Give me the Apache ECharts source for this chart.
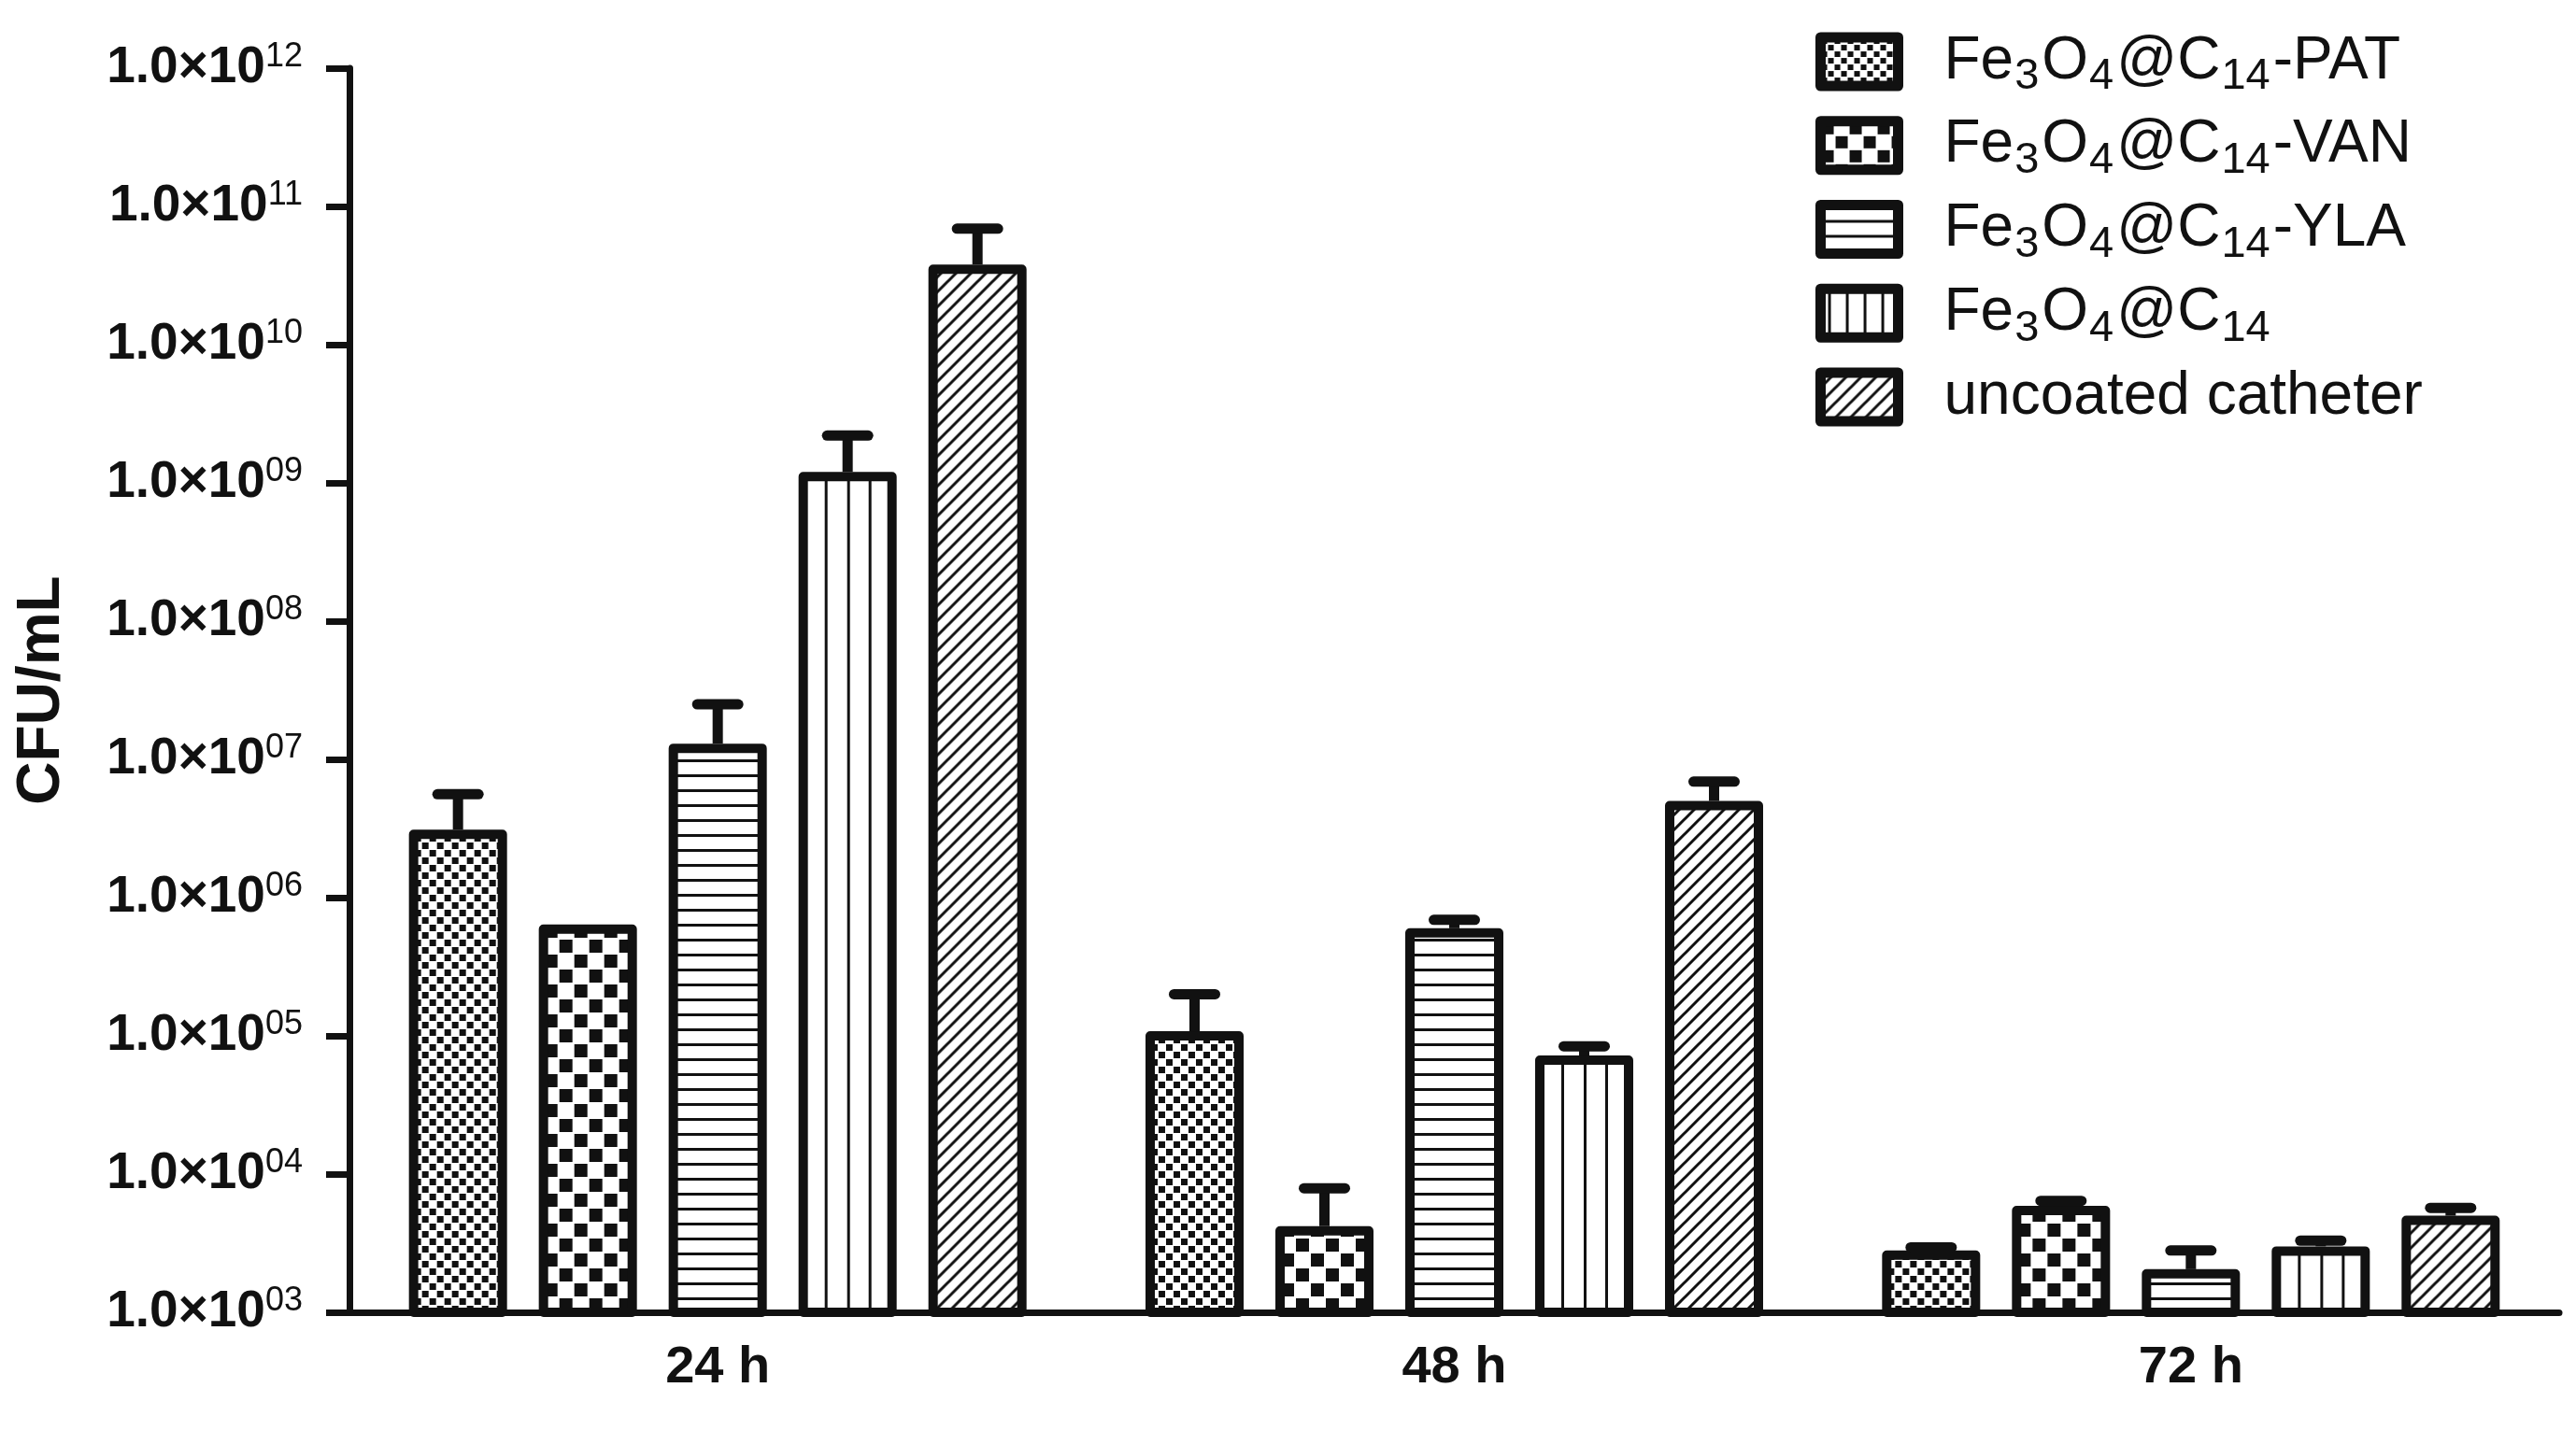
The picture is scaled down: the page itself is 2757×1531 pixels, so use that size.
<!DOCTYPE html>
<html><head><meta charset="utf-8">
<script src="https://cdn.jsdelivr.net/npm/echarts@6/dist/echarts.min.js"></script>
<style>html,body{margin:0;padding:0;background:#fff}#c{width:2757px;height:1531px}</style>
</head><body><div id="c"></div>
<script>
// ---- data ----
const categories = ['24 h', '48 h', '72 h'];
const seriesNames = ['Fe3O4@C14-PAT', 'Fe3O4@C14-VAN', 'Fe3O4@C14-YLA', 'Fe3O4@C14', 'uncoated catheter'];
const patMean = [3.1e6, 1.08e5, 2.8e3];
const patErrTop = [5.6e6, 2.0e5, 2.95e3];
const vanMean = [6.4e5, 4.2e3, 5.9e3];
const vanErrTop = [null, 7.9e3, 6.4e3];
const ylaMean = [1.3e7, 6.0e5, 2.05e3];
const ylaErrTop = [2.5e7, 6.9e5, 2.8e3];
const c14Mean = [1.2e9, 7.2e4, 3.0e3];
const c14ErrTop = [2.2e9, 8.4e4, 3.3e3];
const uncoatedMean = [3.8e10, 5.0e6, 5.0e3];
const uncoatedErrTop = [6.9e10, 6.9e6, 5.7e3];
const yTickLabels = ['03', '04', '05', '06', '07', '08', '09', '10', '11', '12'];
const yAxisTitle = 'CFU/mL';

const means = [patMean, vanMean, ylaMean, c14Mean, uncoatedMean];
const errTops = [patErrTop, vanErrTop, ylaErrTop, c14ErrTop, uncoatedErrTop];

// ---- styles ----
const INK = '#111';
const FONT = 'Liberation Sans, Arial, sans-serif';
const BAR_W = 105, PITCH = 139, BORDER = 10;
const BAR_GAP = (PITCH - BAR_W) / BAR_W;
const INNER = BAR_W - BORDER;

function makeTile(w, h, draw) {
  const c = document.createElement('canvas');
  c.width = w; c.height = h;
  const g = c.getContext('2d');
  g.fillStyle = '#fff'; g.fillRect(0, 0, w, h);
  g.fillStyle = INK; g.strokeStyle = INK;
  draw(g);
  return c;
}
const diag = g => {
  g.lineWidth = 3; g.beginPath();
  g.moveTo(-4, 20); g.lineTo(20, -4);
  g.moveTo(-12, 12); g.lineTo(12, -12);
  g.moveTo(4, 28); g.lineTo(28, 4);
  g.stroke();
};
// tiles used by the legend icons
const legendTiles = [
  makeTile(14, 14, g => { g.fillRect(1, 1, 6, 6); g.fillRect(8, 8, 6, 6); }),
  makeTile(30, 30, g => { g.fillRect(1, 1, 13, 13); g.fillRect(16, 16, 13, 13); }),
  makeTile(4, 16, g => { g.fillRect(0, 0, 4, 3); }),
  makeTile(19, 4, g => { g.fillRect(8, 0, 3, 4); }),
  makeTile(16, 16, diag)
];
// tiles used inside the bars (anchored at each bar's inner left edge)
const barTiles = [
  makeTile(16, 16, g => { g.fillRect(1, 1, 7, 7); g.fillRect(9, 9, 7, 7); }),
  makeTile(32, 32, g => { g.fillRect(1, 1, 14, 14); g.fillRect(17, 17, 14, 14); }),
  makeTile(4, 16, g => { g.fillRect(0, 0, 4, 3); }),
  makeTile(INNER, 4, g => { [1, 2, 3].forEach(k => g.fillRect(Math.round(k * INNER / 4) - 1, 0, 3, 4)); }),
  makeTile(16, 16, diag)
];

function barSeriesOpt(dataFn) {
  return seriesNames.map((n, i) => ({
    name: n, type: 'bar', data: dataFn(i),
    barWidth: BAR_W, barGap: (BAR_GAP * 100).toFixed(2) + '%',
    itemStyle: { color: { image: legendTiles[i], repeat: 'repeat' }, borderColor: INK, borderWidth: BORDER, borderJoin: 'round' },
    z: 2
  }));
}

const errData = [];
errTops.forEach((arr, s) => arr.forEach((e, c) => {
  if (e != null) errData.push([c, s, means[s][c], e]);
}));

const errSeries = {
  name: 'err', type: 'custom', data: errData, z: 5,
  encode: { x: 0, y: 3 },
  renderItem: (params, api) => {
    const c = api.value(0), s = api.value(1), v = api.value(2), e = api.value(3);
    const b = api.coord([c, v]);
    const t = api.coord([c, e]);
    const x = b[0] + (s - 2) * PITCH;
    return { type: 'group', children: [
      { type: 'line', shape: { x1: x, y1: b[1], x2: x, y2: t[1] }, style: { stroke: INK, lineWidth: 11, lineCap: 'butt' } },
      { type: 'line', shape: { x1: x - 22, y1: t[1], x2: x + 22, y2: t[1] }, style: { stroke: INK, lineWidth: 11, lineCap: 'round' } }
    ] };
  }
};

function legendRich(name) {
  const m = name.match(/^Fe3O4@C14(.*)$/);
  if (!m) return '{sp| }{m|' + name + '}';
  return '{sp| }{m|Fe}{sub|3}{m|O}{sub|4}{m|@C}{sub|14}' + (m[1] ? '{m|' + m[1] + '}' : '');
}

const chart = echarts.init(document.getElementById('c'), null, { renderer: 'canvas' });
chart.setOption({
  animation: false,
  backgroundColor: '#fff',
  textStyle: { fontFamily: FONT, color: INK },
  grid: { left: 374, right: 18, top: 73, bottom: 126, containLabel: false },
  legend: {
    orient: 'vertical', left: 1943, top: 34, padding: 0,
    itemWidth: 83, itemHeight: 52, itemGap: 17.75,
    icon: 'rect',
    data: seriesNames,
    itemStyle: { borderColor: INK, borderWidth: 11, borderJoin: 'round' },
    formatter: legendRich,
    textStyle: {
      rich: {
        sp: { width: 44, fontSize: 20, lineHeight: 80 },
        m: { fontSize: 64, lineHeight: 80, color: INK, fontFamily: FONT },
        sub: { fontSize: 47, lineHeight: 32, verticalAlign: 'bottom', padding: [0, 3, 0, 1], color: INK, fontFamily: FONT }
      }
    }
  },
  xAxis: {
    type: 'category', data: categories,
    axisLine: { lineStyle: { color: INK, width: 7, cap: 'round' } },
    axisTick: { alignWithLabel: true, length: 24, lineStyle: { color: INK, width: 6 } },
    axisLabel: { margin: 32, fontSize: 56, fontWeight: 'bold', color: INK, fontFamily: FONT }
  },
  yAxis: {
    type: 'log', logBase: 10, min: 1e3, max: 1e12, splitNumber: 10,
    name: yAxisTitle, nameLocation: 'middle', nameGap: 297, nameRotate: 90,
    nameTextStyle: { fontSize: 64, fontWeight: 'bold', color: INK, fontFamily: FONT },
    splitLine: { show: false },
    axisLine: { show: true, lineStyle: { color: INK, width: 7, cap: 'round' } },
    axisTick: { show: true, length: 25, lineStyle: { color: INK, width: 7 } },
    axisLabel: {
      margin: 50,
      formatter: v => {
        const p = Math.round(Math.log10(v));
        return '{m|1.0×10}{sup|' + yTickLabels[p - 3] + '}';
      },
      rich: {
        m: { fontSize: 55, fontWeight: 'bold', lineHeight: 60, color: INK, fontFamily: FONT },
        sup: { fontSize: 36, lineHeight: 34, verticalAlign: 'top', color: INK, fontFamily: FONT }
      }
    }
  },
  series: [...barSeriesOpt(i => means[i]), errSeries]
});

// anchor each bar's fill pattern to the bar's own inner edge, using the axis scales
const catPx = categories.map(c => chart.convertToPixel({ xAxisIndex: 0 }, c));
const basePx = chart.convertToPixel({ yAxisIndex: 0 }, 1e3);
chart.setOption({
  series: barSeriesOpt(i => means[i].map((v, c) => ({
    value: v,
    itemStyle: { color: { image: barTiles[i], repeat: 'repeat', x: catPx[c] + (i - 2) * PITCH - INNER / 2, y: basePx } }
  })))
});
</script>
</body></html>
